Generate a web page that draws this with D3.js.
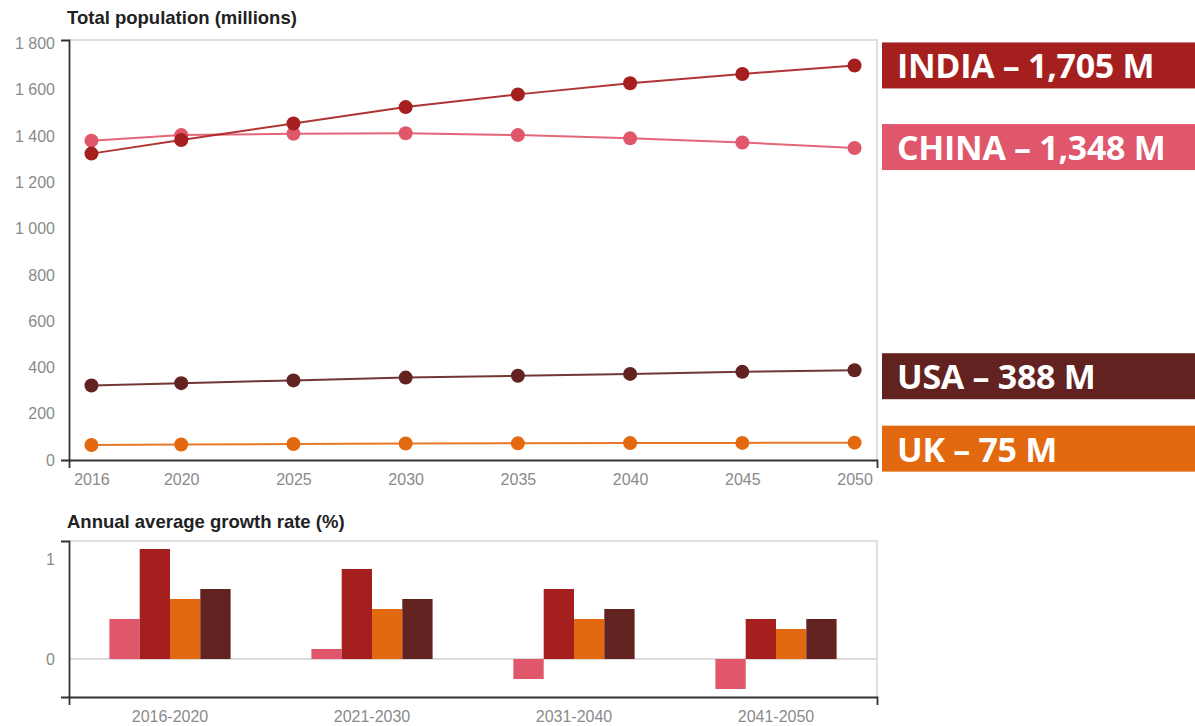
<!DOCTYPE html>
<html>
<head>
<meta charset="utf-8">
<script src="https://cdn.jsdelivr.net/npm/d3@7"></script>
<style>
  html, body { margin: 0; padding: 0; background: #fff; }
  svg { display: block; }
</style>
</head>
<body>
<svg id="chart" width="1195" height="726"></svg>
<script>
// ---- data ----
const years = [2016, 2020, 2025, 2030, 2035, 2040, 2045, 2050];
const countries = ["CHINA", "INDIA", "UK", "USA"];
const popChina = [1380, 1404, 1410, 1412, 1404, 1390, 1372, 1348];
const popIndia = [1324, 1383, 1454, 1525, 1580, 1628, 1668, 1705];
const popUK    = [65, 67, 69, 71, 72, 73, 74, 75];
const popUSA   = [322, 332, 344, 356, 364, 372, 381, 388];
const popTicks = [0, 200, 400, 600, 800, 1000, 1200, 1400, 1600, 1800];
const yearTicks = [2016, 2020, 2025, 2030, 2035, 2040, 2045, 2050];
const periods = ["2016-2020", "2021-2030", "2031-2040", "2041-2050"];
const growthChina = [0.4, 0.1, -0.2, -0.3];
const growthIndia = [1.1, 0.9, 0.7, 0.4];
const growthUK    = [0.6, 0.5, 0.4, 0.3];
const growthUSA   = [0.7, 0.6, 0.5, 0.4];
const growthTicks = [0, 1];
const labelTexts = ["INDIA – 1,705 M", "CHINA – 1,348 M", "USA – 388 M", "UK – 75 M"];

// ---- styling ----
const colors = { CHINA: "#E0566A", INDIA: "#A61F1F", UK: "#E2690F", USA: "#622220" };
const FONT = "'Liberation Sans', Arial, sans-serif";
const svg = d3.select("#chart");

const popSeries = [
  { name: "UK", values: popUK },
  { name: "USA", values: popUSA },
  { name: "CHINA", values: popChina },
  { name: "INDIA", values: popIndia }
];
const growthByCountry = { CHINA: growthChina, INDIA: growthIndia, UK: growthUK, USA: growthUSA };

// ---- top chart ----
const L = 69, R = 877, T1 = 40, B1 = 460;
const x = d3.scaleLinear().domain([2015, 2051]).range([L, R]);
const y = d3.scaleLinear().domain([0, 1815]).range([B1, T1]);

svg.append("text").attr("x", 67).attr("y", 24)
  .attr("font-family", FONT).attr("font-weight", "bold").attr("font-size", 18.5)
  .attr("fill", "#222").text("Total population (millions)");

// frame (top & right)
svg.append("path")
  .attr("d", `M${L},${T1}H${R}V${B1}`)
  .attr("fill", "none").attr("stroke", "#d6d6d6").attr("stroke-width", 1.5);

const fmtSpace = d => d3.format(",")(d).replace(/,/g, " ");

const yAxis = svg.append("g").attr("transform", `translate(${L},0)`)
  .call(d3.axisLeft(y).tickValues(popTicks).tickFormat(fmtSpace).tickSizeInner(0).tickSizeOuter(8).tickPadding(14));
const xAxis = svg.append("g").attr("transform", `translate(0,${B1})`)
  .call(d3.axisBottom(x).tickValues(yearTicks).tickFormat(d3.format("d")).tickSizeInner(0).tickSizeOuter(8).tickPadding(14));

[yAxis, xAxis].forEach(g => {
  g.select(".domain").attr("stroke", "#333").attr("stroke-width", 1.8);
  g.selectAll("text").attr("font-family", FONT).attr("font-size", 16).attr("fill", "#8a8a8a");
});

const line = d3.line().x((d, i) => x(years[i])).y(d => y(d));

popSeries.forEach(s => {
  const g = svg.append("g");
  g.append("path").datum(s.values).attr("d", line)
    .attr("fill", "none").attr("stroke", colors[s.name]).attr("stroke-width", 2).attr("opacity", 0.9);
  g.selectAll("circle").data(s.values).join("circle")
    .attr("cx", (d, i) => x(years[i])).attr("cy", d => y(d)).attr("r", 7)
    .attr("fill", colors[s.name]);
});

// value labels on the right, positioned from the last data value
const labelOrder = [
  { name: "INDIA", values: popIndia, nudge: 0 },
  { name: "CHINA", values: popChina, nudge: -1 },
  { name: "USA", values: popUSA, nudge: 6 },
  { name: "UK", values: popUK, nudge: 6 }
];
labelOrder.forEach((s, i) => {
  const cy = y(s.values[s.values.length - 1]) + s.nudge;
  svg.append("rect").attr("x", 882).attr("y", cy - 23).attr("width", 1195 - 882).attr("height", 46)
    .attr("fill", colors[s.name]);
  svg.append("text").attr("x", 897).attr("y", cy + 13)
    .attr("font-family", "'Open Sans', 'Noto Sans', sans-serif").attr("font-weight", "bold")
    .attr("font-size", 34).attr("fill", "#fff").attr("letter-spacing", -0.3)
    .text(labelTexts[i]);
});

// ---- bottom chart ----
const T2 = 541, B2 = 697;
const y2 = d3.scaleLinear().domain([-0.38, 1.18]).range([B2, T2]);
const x0 = d3.scaleBand().domain(periods).range([L, R]).paddingInner(0.4).paddingOuter(0.2);
const x1 = d3.scaleBand().domain(countries).range([0, x0.bandwidth()]);

svg.append("text").attr("x", 67).attr("y", 528)
  .attr("font-family", FONT).attr("font-weight", "bold").attr("font-size", 18.5)
  .attr("fill", "#222").text("Annual average growth rate (%)");

svg.append("path")
  .attr("d", `M${L},${T2}H${R}V${B2}`)
  .attr("fill", "none").attr("stroke", "#d6d6d6").attr("stroke-width", 1.5);

svg.append("line").attr("x1", L).attr("x2", R).attr("y1", y2(0)).attr("y2", y2(0))
  .attr("stroke", "#cfcfcf").attr("stroke-width", 1.5);

periods.forEach((p, pi) => {
  countries.forEach(c => {
    const v = growthByCountry[c][pi];
    svg.append("rect")
      .attr("x", x0(p) + x1(c)).attr("width", x1.bandwidth())
      .attr("y", y2(Math.max(0, v))).attr("height", Math.abs(y2(v) - y2(0)))
      .attr("fill", colors[c]);
  });
});

const y2Axis = svg.append("g").attr("transform", `translate(${L},0)`)
  .call(d3.axisLeft(y2).tickValues(growthTicks).tickFormat(d3.format("d")).tickSizeInner(0).tickSizeOuter(8).tickPadding(14));
const x2Axis = svg.append("g").attr("transform", `translate(0,${B2})`)
  .call(d3.axisBottom(x0).tickSizeInner(0).tickSizeOuter(8).tickPadding(14));
[y2Axis, x2Axis].forEach(g => {
  g.select(".domain").attr("stroke", "#333").attr("stroke-width", 1.8);
  g.selectAll("text").attr("font-family", FONT).attr("font-size", 16).attr("fill", "#8a8a8a");
});
</script>
</body>
</html>
